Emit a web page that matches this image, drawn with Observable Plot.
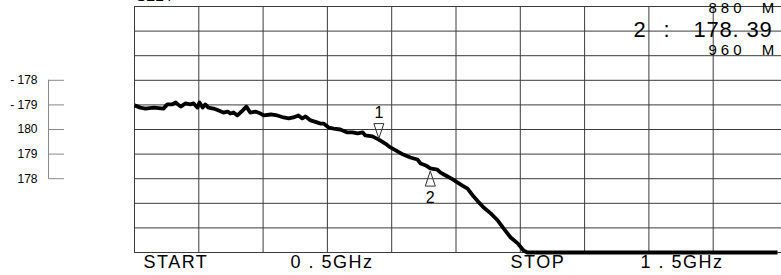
<!DOCTYPE html>
<html><head><meta charset="utf-8">
<script src="https://cdn.jsdelivr.net/npm/d3@7"></script>
<script src="https://cdn.jsdelivr.net/npm/@observablehq/plot@0.6"></script>
<style>
html,body{margin:0;padding:0;background:#fff;}
#chart{width:781px;height:275px;overflow:hidden;}
#chart svg text{white-space:pre;}
</style></head><body><div id="chart"></div>
<script>
// Trace: phase (deg, unwrapped around 180) vs frequency (MHz)
const traceFreqMHz = [500,509,517,530,545,551,559,564,572,579,587,592,598,601,606,610,615,623,631,638,645,649,654,660,668,674,680,688,696,701,712,722,732,740,747,755,761,766,774,785,789,794,802,810,820,831,839,847,855,859,870,880,890,898,909,918,929,940,945,953,960,971,976,984,995,1002,1010,1018,1026,1033,1043,1054,1065,1074,1085,1096,1105,1111,1150,1250,1350,1500];
const tracePhaseDeg = [180.98,180.89,180.85,180.89,180.85,181.02,181.02,181.10,180.93,181.06,181.02,181.06,180.89,181.10,180.89,181.02,180.89,180.85,180.77,180.69,180.73,180.65,180.69,180.57,180.77,180.93,180.69,180.73,180.65,180.57,180.61,180.57,180.49,180.45,180.49,180.57,180.45,180.53,180.37,180.28,180.24,180.24,180.08,180.04,180.00,179.88,179.88,179.84,179.88,179.76,179.72,179.59,179.43,179.27,179.11,178.98,178.86,178.78,178.62,178.54,178.42,178.37,178.25,178.13,177.97,177.85,177.72,177.60,177.32,177.11,176.83,176.59,176.30,175.98,175.61,175.37,175.08,174.96,174.3,173.2,172.0,170.5];

const gridFreqMHz = [500,600,700,800,900,1000,1100,1200,1300,1400];
const gridPhaseDeg = [175,176,177,178,179,180,181,182,183,184,185];

const legendPhaseDeg = [182,181,180,179,178];
const legendLabels = ["- 178","- 179","180","179","178"];

const markerFreqMHz = [880, 960];
const markerPhaseDeg = [179.59, 178.39];
const markerNames = ["1", "2"];

const sweepLabels = ["START", "0 . 5GHz", "STOP", "1 . 5GHz"];
const readoutTop = "880  M";
const readoutMarker = "2";
const readoutColon = ":";
const readoutValue = "178. 39";
const readoutBottom = "960  M";
const channelLabel = "S21 /";

const trace = traceFreqMHz.map((f, i) => ({f, p: tracePhaseDeg[i]}));
const markers = markerFreqMHz.map((f, i) => ({f, p: markerPhaseDeg[i], name: markerNames[i]}));

const font = "'Liberation Sans', Arial, Helvetica, sans-serif";
const triDown = {draw(c, s) { const r = Math.sqrt(s / Math.PI); c.moveTo(0, 0); c.lineTo(-r, -3 * r); c.lineTo(r, -3 * r); c.closePath(); }};
const triUp = {draw(c, s) { const r = Math.sqrt(s / Math.PI); c.moveTo(0, 0); c.lineTo(-r, 3 * r); c.lineTo(r, 3 * r); c.closePath(); }};

const gridColor = "#3c3c3c";
const mid = {lineAnchor: "middle", textAnchor: "start"};

const chart = Plot.plot({
  width: 781, height: 275,
  marginLeft: 134, marginRight: 0, marginTop: 6, marginBottom: 23,
  style: {fontFamily: font, background: "#fff", color: "#000", overflow: "visible"},
  x: {domain: [500, 1500], range: [134, 777], axis: null},
  y: {domain: [175, 185], clamp: true},
  marks: [
    Plot.ruleY(gridPhaseDeg, {stroke: gridColor, strokeWidth: 1}),
    Plot.ruleX(gridFreqMHz, {y1: 175, y2: 185, stroke: gridColor, strokeWidth: 1}),
    // left reference bracket
    Plot.ruleX([gridFreqMHz[0]], {y1: d3.min(legendPhaseDeg), y2: d3.max(legendPhaseDeg), dx: -86, stroke: "#8a8a8a"}),
    Plot.axisY({anchor: "left", ticks: legendPhaseDeg, tickFormat: d => legendLabels[legendPhaseDeg.indexOf(d)],
      tickSize: 16, tickPadding: 11, dx: -70, fontSize: 12, stroke: "#8a8a8a", fill: "#000", label: null}),
    // trace
    Plot.line(trace, {x: "f", y: "p", stroke: "#000", strokeWidth: 3.8, strokeLinejoin: "round", strokeLinecap: "butt"}),
    // markers
    Plot.dot([markers[0]], {x: "f", y: "p", symbol: triDown, r: 5, fill: "none", stroke: "#333", strokeWidth: 1, dy: -1}),
    Plot.dot([markers[1]], {x: "f", y: "p", symbol: triUp, r: 5, fill: "none", stroke: "#333", strokeWidth: 1, dy: 2}),
    Plot.text([markers[0]], {x: "f", y: "p", text: "name", dy: -27, fontSize: 16, fill: "#000"}),
    Plot.text([markers[1]], {x: "f", y: "p", text: "name", dy: 29, fontSize: 16, fill: "#000"}),
    // sweep labels below grid
    Plot.text([sweepLabels[0]], {frameAnchor: "bottom-left", text: d => d, dx: 9, dy: 10, ...mid, fontSize: 18}),
    Plot.text([sweepLabels[1]], {frameAnchor: "bottom-left", text: d => d, dx: 156, dy: 10, ...mid, fontSize: 18}),
    Plot.text([sweepLabels[2]], {frameAnchor: "bottom-left", text: d => d, dx: 376, dy: 10, ...mid, fontSize: 18}),
    Plot.text([sweepLabels[3]], {frameAnchor: "bottom-left", text: d => d, dx: 506, dy: 10, ...mid, fontSize: 18}),
    // marker readout top right
    Plot.text([readoutTop], {frameAnchor: "top-right", text: d => d, dx: -73, dy: 2, ...mid, fontSize: 15}),
    Plot.text([readoutMarker], {frameAnchor: "top-right", text: d => d, dx: -148, dy: 23, ...mid, fontSize: 22}),
    Plot.text([readoutColon], {frameAnchor: "top-right", text: d => d, dx: -118, dy: 23, ...mid, fontSize: 22}),
    Plot.text([readoutValue], {frameAnchor: "top-right", text: d => d, dx: -88, dy: 23, ...mid, fontSize: 22}),
    Plot.text([readoutBottom], {frameAnchor: "top-right", text: d => d, dx: -73, dy: 44, ...mid, fontSize: 15}),
    // clipped channel label at the very top
    Plot.text([channelLabel], {frameAnchor: "top-left", text: d => d, dx: 1, dy: -11, lineAnchor: "middle", textAnchor: "start", fontSize: 16})
  ]
});

d3.select(chart).selectAll("text").filter(function() { return sweepLabels.includes(this.textContent); }).style("letter-spacing", "1.5px");
d3.select(chart).selectAll("text").filter(function() { return this.textContent === readoutTop || this.textContent === readoutBottom; }).style("letter-spacing", "4px");
d3.select(chart).selectAll("text").filter(function() { return this.textContent === readoutValue; }).style("letter-spacing", "0.8px");
document.getElementById("chart").appendChild(chart);
</script>
</body></html>
